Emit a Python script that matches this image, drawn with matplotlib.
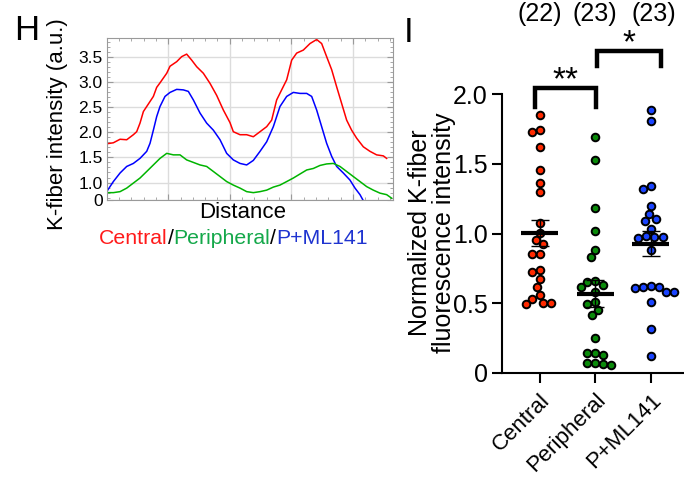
import numpy as np
import matplotlib
matplotlib.use("Agg")
import matplotlib.pyplot as plt
from matplotlib.ticker import FixedLocator, MultipleLocator
from matplotlib.transforms import ScaledTranslation, blended_transform_factory

plt.rcParams['font.family'] = ['Liberation Sans', 'DejaVu Sans']

# ---------------- Panel H : line profiles ----------------
red_x = [0, 0.108, 0.217, 0.325, 0.433, 0.487, 0.541, 0.596, 0.650, 0.758, 0.812, 0.866, 0.975, 1.029,
         1.137, 1.218, 1.299, 1.381, 1.462, 1.570, 1.678, 1.787, 1.895, 2.003, 2.057, 2.166, 2.274,
         2.382, 2.491, 2.599, 2.680, 2.761, 2.842, 2.924, 3.005, 3.086, 3.194, 3.303, 3.411, 3.492,
         3.573, 3.655, 3.736, 3.817, 3.898, 3.979, 4.061, 4.169, 4.277, 4.385, 4.494, 4.548]
red_y = [1.77, 1.79, 1.86, 1.85, 1.95, 2.01, 2.18, 2.41, 2.51, 2.71, 2.89, 2.98, 3.17, 3.31,
         3.40, 3.50, 3.55, 3.43, 3.30, 3.17, 2.97, 2.73, 2.44, 2.19, 2.01, 1.95, 1.95,
         1.91, 2.01, 2.11, 2.24, 2.64, 2.84, 3.04, 3.43, 3.57, 3.63, 3.76, 3.84, 3.76,
         3.50, 3.24, 2.90, 2.57, 2.24, 2.04, 1.88, 1.71, 1.62, 1.55, 1.53, 1.48]

blue_x = [0, 0.108, 0.217, 0.325, 0.433, 0.541, 0.650, 0.704, 0.758, 0.812, 0.866, 0.947, 1.029,
          1.137, 1.245, 1.326, 1.408, 1.516, 1.624, 1.733, 1.841, 1.949, 2.057, 2.166, 2.274,
          2.382, 2.491, 2.599, 2.707, 2.815, 2.924, 3.032, 3.140, 3.249, 3.330, 3.411, 3.492,
          3.573, 3.655, 3.736, 3.844, 3.952, 4.034, 4.115, 4.169]
blue_y = [0.82, 1.02, 1.19, 1.32, 1.38, 1.48, 1.62, 1.78, 2.04, 2.31, 2.51, 2.71, 2.79,
          2.85, 2.84, 2.81, 2.64, 2.38, 2.18, 2.04, 1.85, 1.58, 1.45, 1.38, 1.35,
          1.44, 1.62, 1.81, 2.11, 2.51, 2.71, 2.79, 2.77, 2.77, 2.71, 2.44, 2.11,
          1.78, 1.52, 1.32, 1.19, 1.05, 0.89, 0.76, 0.64]

green_x = [0, 0.108, 0.217, 0.325, 0.433, 0.541, 0.650, 0.758, 0.866, 0.975, 1.083, 1.191, 1.299,
           1.408, 1.516, 1.624, 1.733, 1.841, 1.949, 2.057, 2.166, 2.274, 2.382, 2.491, 2.599,
           2.707, 2.815, 2.924, 3.032, 3.140, 3.249, 3.357, 3.465, 3.573, 3.682, 3.790, 3.898,
           4.006, 4.115, 4.223, 4.331, 4.440, 4.548, 4.629]
green_y = [0.80, 0.80, 0.82, 0.89, 0.99, 1.09, 1.22, 1.35, 1.48, 1.58, 1.55, 1.55, 1.45,
           1.40, 1.35, 1.32, 1.22, 1.12, 1.02, 0.95, 0.89, 0.82, 0.80, 0.82, 0.85,
           0.91, 0.95, 1.02, 1.09, 1.17, 1.25, 1.28, 1.34, 1.37, 1.38, 1.32, 1.22,
           1.12, 1.02, 0.92, 0.85, 0.79, 0.76, 0.69]

h_yticks = [0.65, 1.0, 1.5, 2.0, 2.5, 3.0, 3.5]
h_yticklabels = ['0', '1.0', '1.5', '2.0', '2.5', '3.0', '3.5']

# ---------------- Panel I : scatter ----------------
categories = ['Central', 'Peripheral', 'P+ML141']
n_labels = ['(22)', '(23)', '(23)']
central = [1.849, 1.746, 1.727, 1.621, 1.456, 1.362, 1.295, 1.079, 1.007, 0.954, 0.923,
           0.856, 0.856, 0.741, 0.724, 0.671, 0.616, 0.559, 0.532, 0.504, 0.499, 0.494]
peripheral = [1.691, 1.528, 1.185, 1.019, 0.882, 0.832, 0.659, 0.650, 0.633, 0.614, 0.578,
              0.506, 0.494, 0.451, 0.415, 0.251, 0.144, 0.139, 0.125, 0.072, 0.067, 0.062, 0.058]
pml141 = [1.890, 1.808, 1.343, 1.319, 1.198, 1.140, 1.104, 1.092, 1.030, 0.984, 0.977, 0.977,
          0.970, 0.881, 0.625, 0.618, 0.613, 0.606, 0.582, 0.578, 0.506, 0.314, 0.120]
groups = [central, peripheral, pml141]
fill_colors = ['#ff2a00', '#0a8a0a', '#1a44ff']

W, H = 684, 479
fig = plt.figure(figsize=(W / 100, H / 100), dpi=100)

# ----- Panel H -----
axH = fig.add_axes([106.7 / W, 1 - 200.2 / H, 286.6 / W, 162.2 / H])
axH.plot(red_x, red_y, color='#ff0000', lw=1.1)
axH.plot(blue_x, blue_y, color='#0000ff', lw=1.1)
axH.plot(green_x, green_y, color='#00b400', lw=1.1)
axH.set_xlim(0, 4.656)
axH.set_ylim(0.65, 3.87)
axH.xaxis.set_major_locator(FixedLocator([1, 2, 3, 4]))
axH.xaxis.set_minor_locator(MultipleLocator(0.2))
axH.set_yticks(h_yticks)
axH.set_yticklabels(h_yticklabels, fontsize=12.5)
axH.yaxis.set_minor_locator(MultipleLocator(0.1))
axH.set_xticklabels([])
axH.grid(True, which='major', color='#dcdcdc', lw=1.0)
axH.set_axisbelow(True)
for s in axH.spines.values():
    s.set_color('#9a9a9a')
    s.set_linewidth(0.8)
axH.tick_params(which='both', direction='in', color='#9a9a9a', top=True, right=True,
                pad=3, labelsize=12.5)
axH.tick_params(which='major', length=4)
axH.tick_params(which='minor', length=2)

fig.text(58 / W, 1 - 124 / H, 'K-fiber intensity (a.u.)', rotation=90,
         ha='center', va='center', fontsize=16)
fig.text(243 / W, 1 - 212 / H, 'Distance', ha='center', va='center', fontsize=16)

t1 = fig.text(99 / W, 1 - 238 / H, 'Central', color='#ff1a1a', fontsize=15.3,
              ha='left', va='center')
parts = [('/', 'black'), ('Peripheral', '#14a84a'), ('/', 'black'), ('P+ML141', '#1f34d0')]
prev = t1
for txt, col in parts:
    prev = axH.annotate(txt, xy=(1, 0), xycoords=prev, ha='left', va='bottom', color=col,
                        fontsize=15.3, annotation_clip=False)

fig.text(27 / W, 1 - 31 / H, 'H', ha='center', va='center', fontsize=25)
fig.text(409 / W, 1 - 33 / H, 'I', ha='center', va='center', fontsize=25)

# ----- Panel I -----
axI = fig.add_axes([501.7 / W, 1 - 372.7 / H, (683.3 - 501.7) / W, (372.7 - 94.3) / H])
axI.set_xlim(-0.685, 2.587)
axI.set_ylim(0, 2.0)

px_per_x = 55.5
px_per_y = 139.2
diam = 8.2


def swarm(vals):
    vals = np.asarray(vals, dtype=float)
    offs = np.zeros(len(vals))
    placed = []
    for i in np.argsort(-vals):
        y = vals[i] * px_per_y
        cands = [0.0]
        for ox, oy in placed:
            dy = y - oy
            if abs(dy) < diam:
                dx = np.sqrt(diam ** 2 - dy ** 2)
                cands += [ox + dx, ox - dx]
        cands = sorted(cands, key=lambda c: (abs(c), c))
        for c in cands:
            if all((c - ox) ** 2 + (y - oy) ** 2 >= diam ** 2 - 1e-6 for ox, oy in placed):
                offs[i] = c
                break
        placed.append((offs[i], y))
    return offs / px_per_x


for k, (vals, col) in enumerate(zip(groups, fill_colors)):
    xs = k + swarm(vals)
    axI.scatter(xs, vals, s=30, facecolor=col, edgecolor='black', linewidth=1.4,
                zorder=3, clip_on=False)
    m = np.mean(vals)
    sem = np.std(vals, ddof=1) / np.sqrt(len(vals))
    axI.plot([k - 0.33, k + 0.33], [m, m], color='black', lw=3, zorder=4,
             solid_capstyle='butt')
    axI.errorbar(k, m, yerr=sem, fmt='none', ecolor='black', elinewidth=1.0,
                 capsize=6.5, capthick=1.0, zorder=4)

axI.set_xticks([0, 1, 2])
axI.set_xticklabels([])
lab_trans = blended_transform_factory(axI.transData, axI.transAxes) + \
    ScaledTranslation(15 / 100, -17 / 100, fig.dpi_scale_trans)
for k, cat in enumerate(categories):
    axI.text(k, 0, cat, transform=lab_trans, rotation=45, ha='right', va='top',
             fontsize=16, clip_on=False)
axI.set_yticks([0, 0.5, 1.0, 1.5, 2.0])
axI.set_yticklabels(['0', '0.5', '1.0', '1.5', '2.0'], fontsize=18)
axI.tick_params(direction='out', length=7, width=1.5, pad=3)
for side in ['top', 'right']:
    axI.spines[side].set_visible(False)
for side in ['left', 'bottom']:
    axI.spines[side].set_linewidth(1.5)

fig.text(432 / W, 1 - 233 / H, 'Normalized K-fiber\nfluorescence intensity', rotation=90,
         ha='center', va='center', fontsize=18, linespacing=0.95, multialignment='center')

# brackets
br_kw = dict(color='black', lw=3.2, clip_on=False, solid_joinstyle='miter', zorder=5)
axI.plot([-0.085, -0.085, 1.01, 1.01], [1.907, 2.043, 2.043, 1.907], **br_kw)
axI.plot([1.03, 1.03, 2.18, 2.18], [2.203, 2.313, 2.313, 2.203], **br_kw)
axI.text(0.46, 2.035, '**', ha='center', va='baseline', fontsize=24)
axI.text(1.61, 2.30, '*', ha='center', va='baseline', fontsize=24)

trans = blended_transform_factory(axI.transData, fig.transFigure)
for k, lab in enumerate(n_labels):
    axI.text(k + (0.06 if k == 2 else 0), 1 - 13.5 / H, lab, transform=trans,
             ha='center', va='center', fontsize=18)

fig.savefig('out.png', dpi=100)
